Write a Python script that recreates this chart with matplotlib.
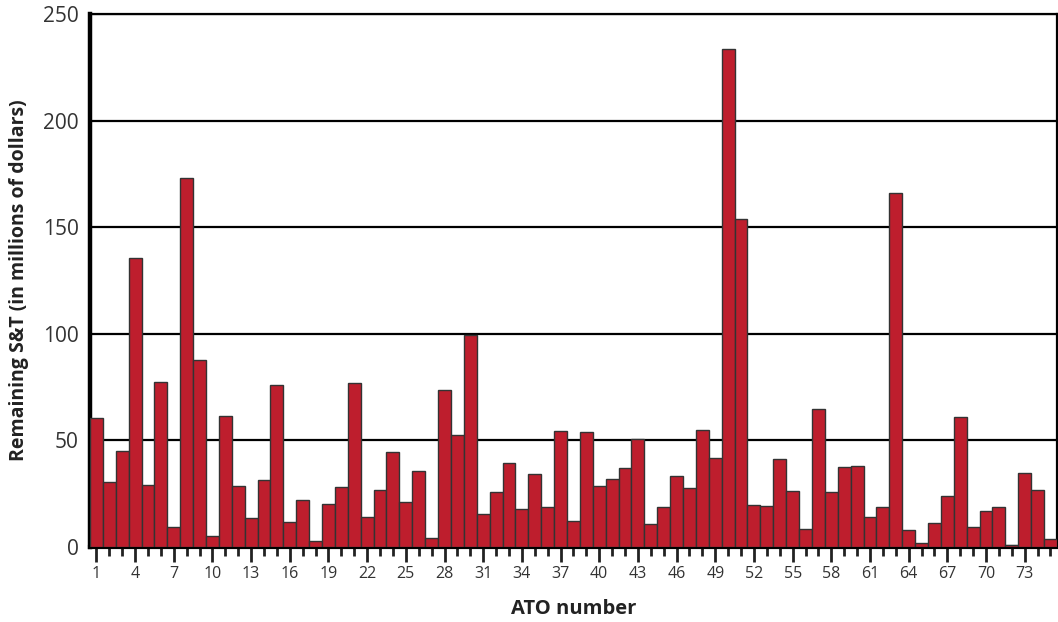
import matplotlib.pyplot as plt
from matplotlib.ticker import MultipleLocator

# Remaining S&T per ATO, millions of dollars
ato_numbers = list(range(1, 76))
remaining = [
    60.7, 30.3, 45.2, 135.7, 28.9, 77.6, 9.3, 173.1, 87.5, 5.2,
    61.6, 28.5, 13.4, 31.3, 75.9, 11.5, 22.2, 2.8, 20.3, 28.1,
    76.7, 14.0, 26.6, 44.5, 21.0, 35.6, 4.1, 73.7, 52.3, 99.2,
    15.5, 25.9, 39.3, 17.7, 34.4, 18.6, 54.4, 12.3, 54.0, 28.5,
    31.8, 37.2, 50.6, 10.8, 18.8, 33.1, 27.6, 54.9, 41.9, 233.6,
    153.9, 19.5, 19.0, 41.1, 26.4, 8.6, 64.6, 25.9, 37.4, 37.8,
    14.1, 18.8, 166.0, 7.8, 2.0, 11.2, 24.0, 61.1, 9.3, 17.1,
    18.6, 0.9, 34.8, 26.6, 3.7,
]
labelled_ticks = list(range(1, 76, 3))

plt.rcParams['font.family'] = ['Open Sans', 'DejaVu Sans']

fig = plt.figure(figsize=(10.58, 6.22), dpi=100)
ax = fig.add_axes([0.085, 0.1206, 0.914, 0.857])

ax.bar(ato_numbers, remaining, width=1.0, color='#BE1E2D',
       edgecolor='#333333', linewidth=1.0, zorder=3)

ax.set_xlim(0.5, 75.5)
ax.set_ylim(0, 250)
ax.yaxis.set_major_locator(MultipleLocator(50))
ax.grid(axis='y', color='black', linewidth=1.6, zorder=1)

ax.set_xticks(labelled_ticks)
ax.set_xticks(ato_numbers, minor=True)
ax.tick_params(axis='x', which='major', length=11, width=2, labelsize=11.5,
               color='#222222', labelcolor='#333333', pad=3)
ax.tick_params(axis='x', which='minor', length=6.5, width=2, color='#222222')
ax.tick_params(axis='y', length=0, labelsize=15, labelcolor='#333333', pad=8)

for side in ['top', 'right']:
    ax.spines[side].set_linewidth(1.6)
ax.spines['left'].set_linewidth(3.2)
ax.spines['bottom'].set_linewidth(3)

ax.set_xlabel('ATO number', fontsize=14.5, fontweight='bold', color='#222222', labelpad=12)
ax.set_ylabel('Remaining S&T (in millions of dollars)', fontsize=14,
              fontweight='bold', color='#222222', labelpad=10)

fig.savefig('out.png', dpi=100)
